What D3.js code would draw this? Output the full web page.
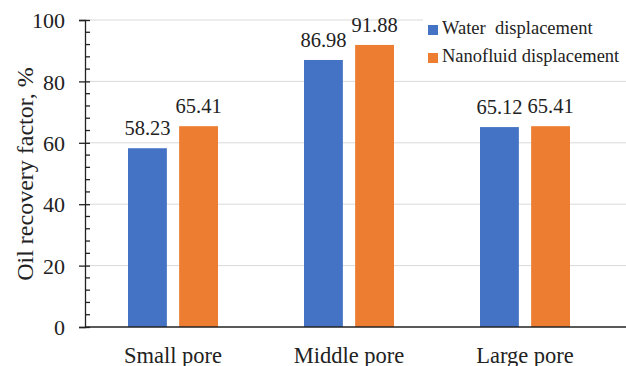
<!DOCTYPE html>
<html>
<head>
<meta charset="utf-8">
<script src="https://cdn.jsdelivr.net/npm/d3@7"></script>
<style>
  body { margin: 0; background: #fff; }
  text { font-family: "Liberation Serif", "Times New Roman", serif; fill: #222; }
</style>
</head>
<body>
<script>
// chart values
var categories = ["Small pore", "Middle pore", "Large pore"];
var seriesNames = ["Water  displacement", "Nanofluid displacement"];
var water = [58.23, 86.98, 65.12];
var nanofluid = [65.41, 91.88, 65.41];
var yTicks = [0, 20, 40, 60, 80, 100];
var colors = ["#4472C4", "#ED7D31"];

var width = 626,
    height = 366;

var plotLeft = 85, plotRight = 613, plotTop = 20, plotBottom = 327;

var svg = d3.select("body")
            .append("svg")
            .attr("width", width)
            .attr("height", height);

var x = d3.scaleBand()
    .domain(categories)
    .range([plotLeft, plotRight]);

var xInner = d3.scaleBand()
    .domain(seriesNames)
    .range([0, 90])
    .paddingInner(0.24);

var y = d3.scaleLinear()
    .domain([0, 100])
    .range([plotBottom, plotTop]);

// gridlines (run to the right edge like the original)
svg.append("g")
  .selectAll("line")
  .data(yTicks.slice(1))
  .enter().append("line")
    .attr("x1", plotLeft)
    .attr("x2", width)
    .attr("y1", function(d) { return y(d); })
    .attr("y2", function(d) { return y(d); })
    .attr("stroke", "#d9d9d9")
    .attr("stroke-width", 1);

// bars
var rows = categories.map(function(c, i) {
    return { cat: c, values: [water[i], nanofluid[i]] };
});

var groups = svg.append("g")
  .selectAll("g")
  .data(rows)
  .enter().append("g")
    .attr("transform", function(d) {
        return "translate(" + (x(d.cat) + (x.bandwidth() - 90) / 2) + ",0)";
    });

groups.selectAll("rect")
  .data(function(d) { return d.values.map(function(v, j) { return { name: seriesNames[j], value: v, j: j }; }); })
  .enter().append("rect")
    .attr("x", function(d) { return xInner(d.name); })
    .attr("width", xInner.bandwidth())
    .attr("y", function(d) { return y(d.value); })
    .attr("height", function(d) { return y(0) - y(d.value); })
    .attr("fill", function(d) { return colors[d.j]; });

groups.selectAll("text")
  .data(function(d) { return d.values.map(function(v, j) { return { name: seriesNames[j], value: v }; }); })
  .enter().append("text")
    .attr("x", function(d) { return xInner(d.name) + xInner.bandwidth() / 2; })
    .attr("y", function(d) { return y(d.value) - 13; })
    .attr("text-anchor", "middle")
    .attr("font-size", "20.5px")
    .text(function(d) { return d.value.toFixed(2); });

// y axis
var yAxis = svg.append("g")
    .attr("transform", "translate(" + plotLeft + ",0)")
    .call(d3.axisLeft(y).tickValues(yTicks).tickSize(6).tickPadding(14).tickFormat(d3.format("d")));
yAxis.select(".domain").attr("stroke", "#222").attr("stroke-width", 1.3);
yAxis.selectAll(".tick line").attr("stroke", "#222").attr("stroke-width", 1.3).attr("x2", -6).attr("x1", 5);
yAxis.selectAll(".tick text")
    .attr("font-size", "22px")
    .attr("font-family", "Liberation Serif, serif")
    .attr("fill", "#222")
    .attr("dy", "0.35em");

// minor ticks inside
var minor = d3.range(0, 101, 4).filter(function(d) { return d % 20 !== 0; });
svg.append("g")
  .selectAll("line")
  .data(minor)
  .enter().append("line")
    .attr("x1", plotLeft)
    .attr("x2", plotLeft + 5)
    .attr("y1", function(d) { return y(d); })
    .attr("y2", function(d) { return y(d); })
    .attr("stroke", "#222")
    .attr("stroke-width", 1.3);

// x axis
var xAxis = svg.append("g")
    .attr("transform", "translate(0," + plotBottom + ")")
    .call(d3.axisBottom(x).tickSize(0).tickPadding(20));
xAxis.select(".domain").remove();
xAxis.append("line")
    .attr("x1", plotLeft)
    .attr("x2", width)
    .attr("stroke", "#222")
    .attr("stroke-width", 1.3);
xAxis.selectAll(".tick text")
    .attr("font-size", "22.5px")
    .attr("font-family", "Liberation Serif, serif")
    .attr("fill", "#222");

// y title
svg.append("text")
    .attr("transform", "translate(33,174) rotate(-90)")
    .attr("text-anchor", "middle")
    .attr("font-size", "24px")
    .text("Oil recovery factor, %");

// legend
var legend = svg.append("g")
    .attr("transform", "translate(423,14)");
legend.append("rect")
    .attr("width", 203)
    .attr("height", 56)
    .attr("fill", "#fff");
var items = legend.selectAll("g.item")
  .data(seriesNames)
  .enter().append("g")
    .attr("class", "item")
    .attr("transform", function(d, i) { return "translate(0," + (i * 28) + ")"; });
items.append("rect")
    .attr("x", 5)
    .attr("y", 11)
    .attr("width", 10)
    .attr("height", 10)
    .attr("fill", function(d, i) { return colors[i]; });
items.append("text")
    .attr("x", 19)
    .attr("y", 20)
    .attr("font-size", "18.5px")
    .style("white-space", "pre")
    .text(function(d) { return d; });
</script>
</body>
</html>
